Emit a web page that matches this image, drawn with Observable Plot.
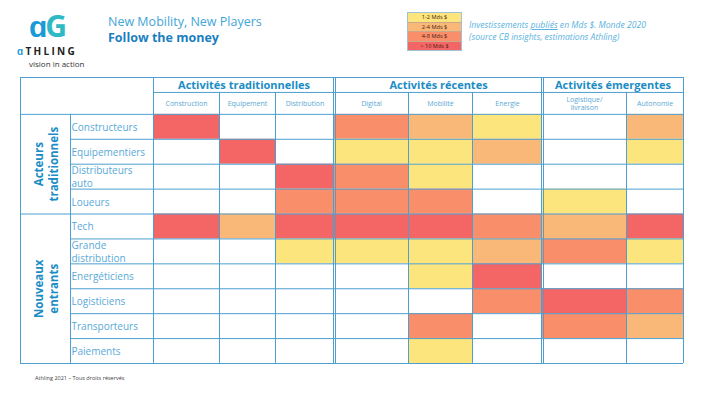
<!DOCTYPE html>
<html>
<head>
<meta charset="utf-8">
<script src="https://cdn.jsdelivr.net/npm/d3@7"></script>
<script src="https://cdn.jsdelivr.net/npm/@observablehq/plot@0.6"></script>
<style>
  html, body { margin: 0; padding: 0; background: #fff; }
  #page { position: relative; width: 703px; height: 396px; overflow: hidden; font-family: "Open Sans", sans-serif; }
  #chart { position: absolute; left: 0; top: 0; }
  .abs { position: absolute; z-index: 2; white-space: nowrap; }
</style>
</head>
<body>
<div id="page">
  <div id="chart"></div>
  <div class="abs" style="left:29px;top:6px;font-size:30px;font-weight:700;line-height:40px;letter-spacing:-2px;"><span style="color:#1a9ad6">ɑ</span><span style="color:#2fb8c6">G</span></div>
  <div class="abs" style="left:17px;top:45px;font-size:10px;font-weight:700;letter-spacing:2.3px;color:#222;line-height:12px;"><span style="color:#1a9ad6">ɑ</span>THLING</div>
  <div class="abs" style="left:29px;top:58px;font-size:8px;color:#333;line-height:11px;">vision in action</div>
  <div class="abs" style="left:108px;top:14px;font-size:12.5px;color:#3fa6d9;line-height:16px;">New Mobility, New Players</div>
  <div class="abs" style="left:108px;top:30px;font-size:12.5px;font-weight:700;color:#1a7fbf;line-height:16px;">Follow the money</div>
  <div id="legend" class="abs" style="left:407px;top:12px;width:53px;border:1px solid #9fc3d6;"></div>
  <div class="abs" style="left:469px;top:20px;font-size:8.6px;font-style:italic;color:#5ab2de;line-height:11.5px;">Investissements <u>publiés</u> en Mds $. Monde 2020<br>(source CB insights, estimations Athling)</div>
  <div class="abs" style="left:35px;top:374px;font-size:5.5px;color:#444;line-height:8px;">Athling 2021 – Tous droits réservés</div>
</div>
<script>
// ---------- data ----------
const groups = ["Activités traditionnelles", "Activités récentes", "Activités émergentes"];
const columns = ["Construction", "Equipement", "Distribution", "Digital", "Mobilité", "Energie", "Logistique/\nlivraison", "Autonomie"];
const columnGroup = [0, 0, 0, 1, 1, 1, 2, 2];
const actors = ["Constructeurs", "Equipementiers", "Distributeurs\nauto", "Loueurs", "Tech", "Grande\ndistribution", "Energéticiens", "Logisticiens", "Transporteurs", "Paiements"];
const actorGroups = ["Acteurs\ntraditionnels", "Nouveaux\nentrants"];
const actorGroupSize = [4, 6];
const levelLabels = ["1-2 Mds $", "2-4 Mds $", "4-8 Mds $", "> 10 Mds $"];
const levelColors = ["#fde57e", "#f9b878", "#f98e6b", "#f46666"];
// investment level per actor (0 = none, 1..4 = legend classes), in column order
const constructeurs  = [4, 0, 0, 3, 2, 1, 0, 2];
const equipementiers = [0, 4, 0, 1, 1, 2, 0, 1];
const distributeurs  = [0, 0, 4, 3, 1, 0, 0, 0];
const loueurs        = [0, 0, 3, 3, 3, 0, 1, 0];
const tech           = [4, 2, 4, 4, 4, 3, 2, 4];
const grandeDistrib  = [0, 0, 1, 1, 1, 2, 3, 1];
const energeticiens  = [0, 0, 0, 0, 1, 4, 0, 0];
const logisticiens   = [0, 0, 0, 0, 0, 3, 4, 3];
const transporteurs  = [0, 0, 0, 0, 3, 0, 3, 2];
const paiements      = [0, 0, 0, 0, 1, 0, 0, 0];
const levels = [constructeurs, equipementiers, distributeurs, loueurs, tech, grandeDistrib, energeticiens, logisticiens, transporteurs, paiements];

// ---------- layout ----------
const colWidths = [66, 56, 59, 74, 64, 70, 84, 57];
const LABEL_W = 83, GROUP_W = 50;
const HEAD_TOP = -1.48, HEAD_MID = -0.88;
const lineColor = "#4d9fd0";
const edges = [0];
colWidths.forEach(w => edges.push(edges[edges.length - 1] + w));
const total = edges[edges.length - 1];
const nRows = actors.length;
const groupStart = groups.map((g, gi) => edges[columnGroup.indexOf(gi)]);
const groupEnd = groups.map((g, gi) => edges[columnGroup.lastIndexOf(gi) + 1]);

const cells = [];
levels.forEach((row, r) => row.forEach((lv, c) => { if (lv > 0) cells.push({row: r, col: c, level: lv}); }));

const left = -(LABEL_W + GROUP_W);
const hLines = [
  {y: HEAD_TOP, x1: left, x2: total},
  {y: HEAD_MID, x1: 0, x2: total},
  {y: 0, x1: left, x2: total},
  {y: nRows, x1: left, x2: total}
];
let acc = 0;
actorGroupSize.forEach((s, i) => { acc += s; if (i < actorGroupSize.length - 1) hLines.push({y: acc, x1: left, x2: total}); });
for (let r = 1; r < nRows; r++) if (!hLines.some(h => h.y === r)) hLines.push({y: r, x1: -LABEL_W, x2: total});

const vLines = [
  {x: left, y1: HEAD_TOP, y2: nRows},
  {x: -LABEL_W, y1: 0, y2: nRows},
  {x: 0, y1: HEAD_TOP, y2: nRows},
  {x: total, y1: HEAD_TOP, y2: nRows}
];
for (let c = 1; c < columns.length; c++) {
  if (columnGroup[c] !== columnGroup[c - 1]) {
    vLines.push({x: edges[c] - 1, y1: HEAD_TOP, y2: nRows});
    vLines.push({x: edges[c] + 1, y1: HEAD_TOP, y2: nRows});
  } else {
    vLines.push({x: edges[c], y1: HEAD_MID, y2: nRows});
  }
}

const groupCenters = [];
let start = 0;
actorGroupSize.forEach(s => { groupCenters.push(start + s / 2); start += s; });

const chart = Plot.plot({
  width: 703,
  height: 396,
  marginLeft: 20,
  marginRight: 20,
  marginTop: 77,
  marginBottom: 33,
  style: {fontFamily: "Open Sans, sans-serif", background: "transparent"},
  x: {domain: [left, total], axis: null},
  y: {domain: [HEAD_TOP, nRows], reverse: true, axis: null},
  color: {type: "ordinal", domain: [1, 2, 3, 4], range: levelColors},
  marks: [
    Plot.rect(cells, {x1: d => edges[d.col], x2: d => edges[d.col + 1], y1: "row", y2: d => d.row + 1, fill: "level"}),
    Plot.ruleY(hLines, {y: "y", x1: "x1", x2: "x2", stroke: lineColor, strokeWidth: 1}),
    Plot.ruleX(vLines, {x: "x", y1: "y1", y2: "y2", stroke: lineColor, strokeWidth: 1}),
    Plot.text(groups, {x: (d, i) => (groupStart[i] + groupEnd[i]) / 2, y: (HEAD_TOP + HEAD_MID) / 2, text: d => d, fontWeight: "bold", fontSize: 11, fill: "#1b8cc5"}),
    Plot.text(columns, {x: (d, i) => (edges[i] + edges[i + 1]) / 2, y: HEAD_MID / 2, text: d => d, fontSize: 7, fill: "#5ba8d4", lineHeight: 1.2}),
    Plot.text(actors, {x: -LABEL_W + 1, y: (d, i) => i + 0.5, text: d => d, textAnchor: "start", fontSize: 10, fill: "#5aa9d8", lineHeight: 1.25}),
    Plot.text(actorGroups, {x: -LABEL_W - GROUP_W / 2, y: (d, i) => groupCenters[i], text: d => d, rotate: -90, fontWeight: "bold", fontSize: 11.5, fill: "#1b8cc5", lineHeight: 1.3})
  ]
});
document.getElementById("chart").appendChild(chart);

// legend boxes
const legend = document.getElementById("legend");
levelLabels.forEach((lab, i) => {
  const d = document.createElement("div");
  d.textContent = lab;
  d.style.cssText = `height:8.5px;line-height:8.5px;font-size:5.6px;text-align:center;color:#4a1c0c;background:${levelColors[i]};border-top:${i ? "0.5px solid #c9a98a" : "none"};`;
  legend.appendChild(d);
});
</script>
</body>
</html>
